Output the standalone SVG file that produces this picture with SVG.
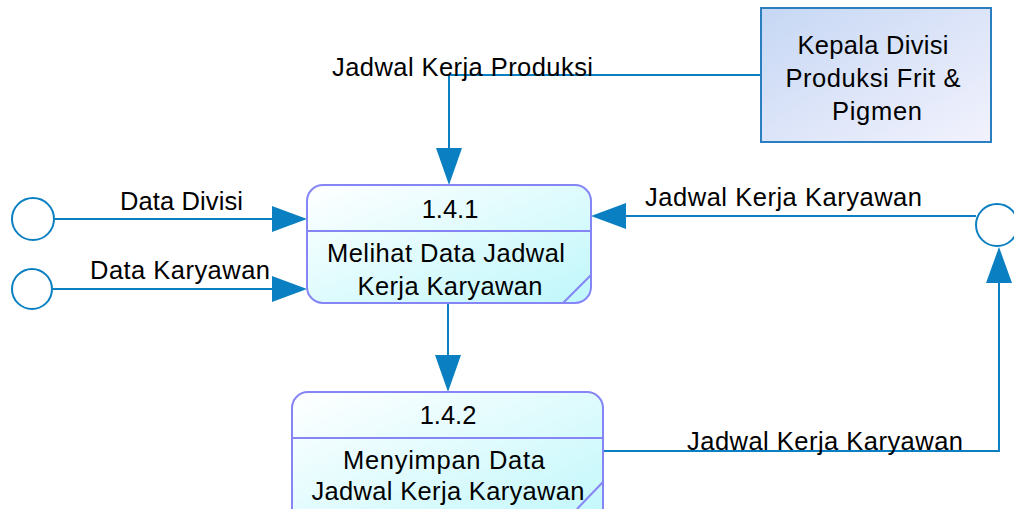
<svg xmlns="http://www.w3.org/2000/svg" width="1014" height="509" viewBox="0 0 1014 509">
<style>
.t{font-family:"Liberation Sans",Arial,sans-serif;font-size:25.5px;fill:#000}
.c{stroke:#0a80c2;stroke-width:2;fill:none}
.ah{fill:#0a80c2}
.ds{stroke:#0a80c2;stroke-width:2;fill:#fff}
.p{stroke:#8585f5;stroke-width:2;fill:url(#pg)}
.pl{stroke:#8585f5;stroke-width:2;fill:none}
</style>
<defs>
<linearGradient id="pg" x1="0" y1="0" x2="1" y2="1">
<stop offset="0" stop-color="#ffffff"/>
<stop offset="1" stop-color="#bff7fb"/>
</linearGradient>
<linearGradient id="eg" x1="0" y1="0" x2="1" y2="1">
<stop offset="0" stop-color="#c6d7f4"/>
<stop offset="1" stop-color="#f2f2fd"/>
</linearGradient>
</defs>
<g id="connectors">
<polyline class="c" points="761,75 449,75 449,150"/>
<polygon class="ah" points="436,148 462,148 449,185"/>
<line class="c" x1="54" y1="219" x2="274" y2="219"/>
<polygon class="ah" points="272,206 272,232 307,219"/>
<line class="c" x1="53" y1="289" x2="274" y2="289"/>
<polygon class="ah" points="272,276 272,302 307,289"/>
<line class="c" x1="976" y1="216" x2="624" y2="216"/>
<polygon class="ah" points="626,203 626,229 591,216"/>
<line class="c" x1="448" y1="304" x2="448" y2="357"/>
<polygon class="ah" points="435,355 461,355 448,392"/>
<polyline class="c" points="603,451 999,451 999,280"/>
<polygon class="ah" points="986,283 1012,283 999,247"/>
<text class="t" x="332" y="76" textLength="261">Jadwal Kerja Produksi</text>
<text class="t" x="120" y="210" textLength="123">Data Divisi</text>
<text class="t" x="90" y="279" textLength="180">Data Karyawan</text>
<text class="t" x="645" y="206" textLength="277">Jadwal Kerja Karyawan</text>
<text class="t" x="687" y="450" textLength="276">Jadwal Kerja Karyawan</text>
</g>
<g id="ext-kepala">
<rect x="761" y="8" width="230" height="134" fill="url(#eg)" stroke="#2a7fc0" stroke-width="2"/>
<text class="t" x="873" y="54" text-anchor="middle" textLength="151">Kepala Divisi</text>
<text class="t" x="873" y="87" text-anchor="middle" textLength="175">Produksi Frit &amp;</text>
<text class="t" x="877" y="120" text-anchor="middle" textLength="90">Pigmen</text>
</g>
<g id="store-left-1"><circle class="ds" cx="33" cy="219" r="21"/></g>
<g id="store-left-2"><circle class="ds" cx="32" cy="289" r="20"/></g>
<g id="store-right"><circle class="ds" cx="997" cy="225" r="21"/></g>
<g id="proc-141">
<rect class="p" x="307" y="185" width="284" height="118" rx="16"/>
<line class="pl" x1="307" y1="231" x2="591" y2="231"/>
<line class="pl" x1="563" y1="303" x2="591" y2="275"/>
<text class="t" x="450" y="218" text-anchor="middle">1.4.1</text>
<text class="t" x="446" y="262" text-anchor="middle" textLength="238">Melihat Data Jadwal</text>
<text class="t" x="450" y="295" text-anchor="middle" textLength="185">Kerja Karyawan</text>
</g>
<g id="proc-142">
<rect class="p" x="292" y="392" width="311" height="140" rx="16"/>
<line class="pl" x1="292" y1="438" x2="603" y2="438"/>
<line class="pl" x1="577" y1="509" x2="603" y2="482"/>
<text class="t" x="448" y="424" text-anchor="middle">1.4.2</text>
<text class="t" x="444" y="469" text-anchor="middle" textLength="202">Menyimpan Data</text>
<text class="t" x="448" y="500" text-anchor="middle" textLength="273">Jadwal Kerja Karyawan</text>
</g>
</svg>
